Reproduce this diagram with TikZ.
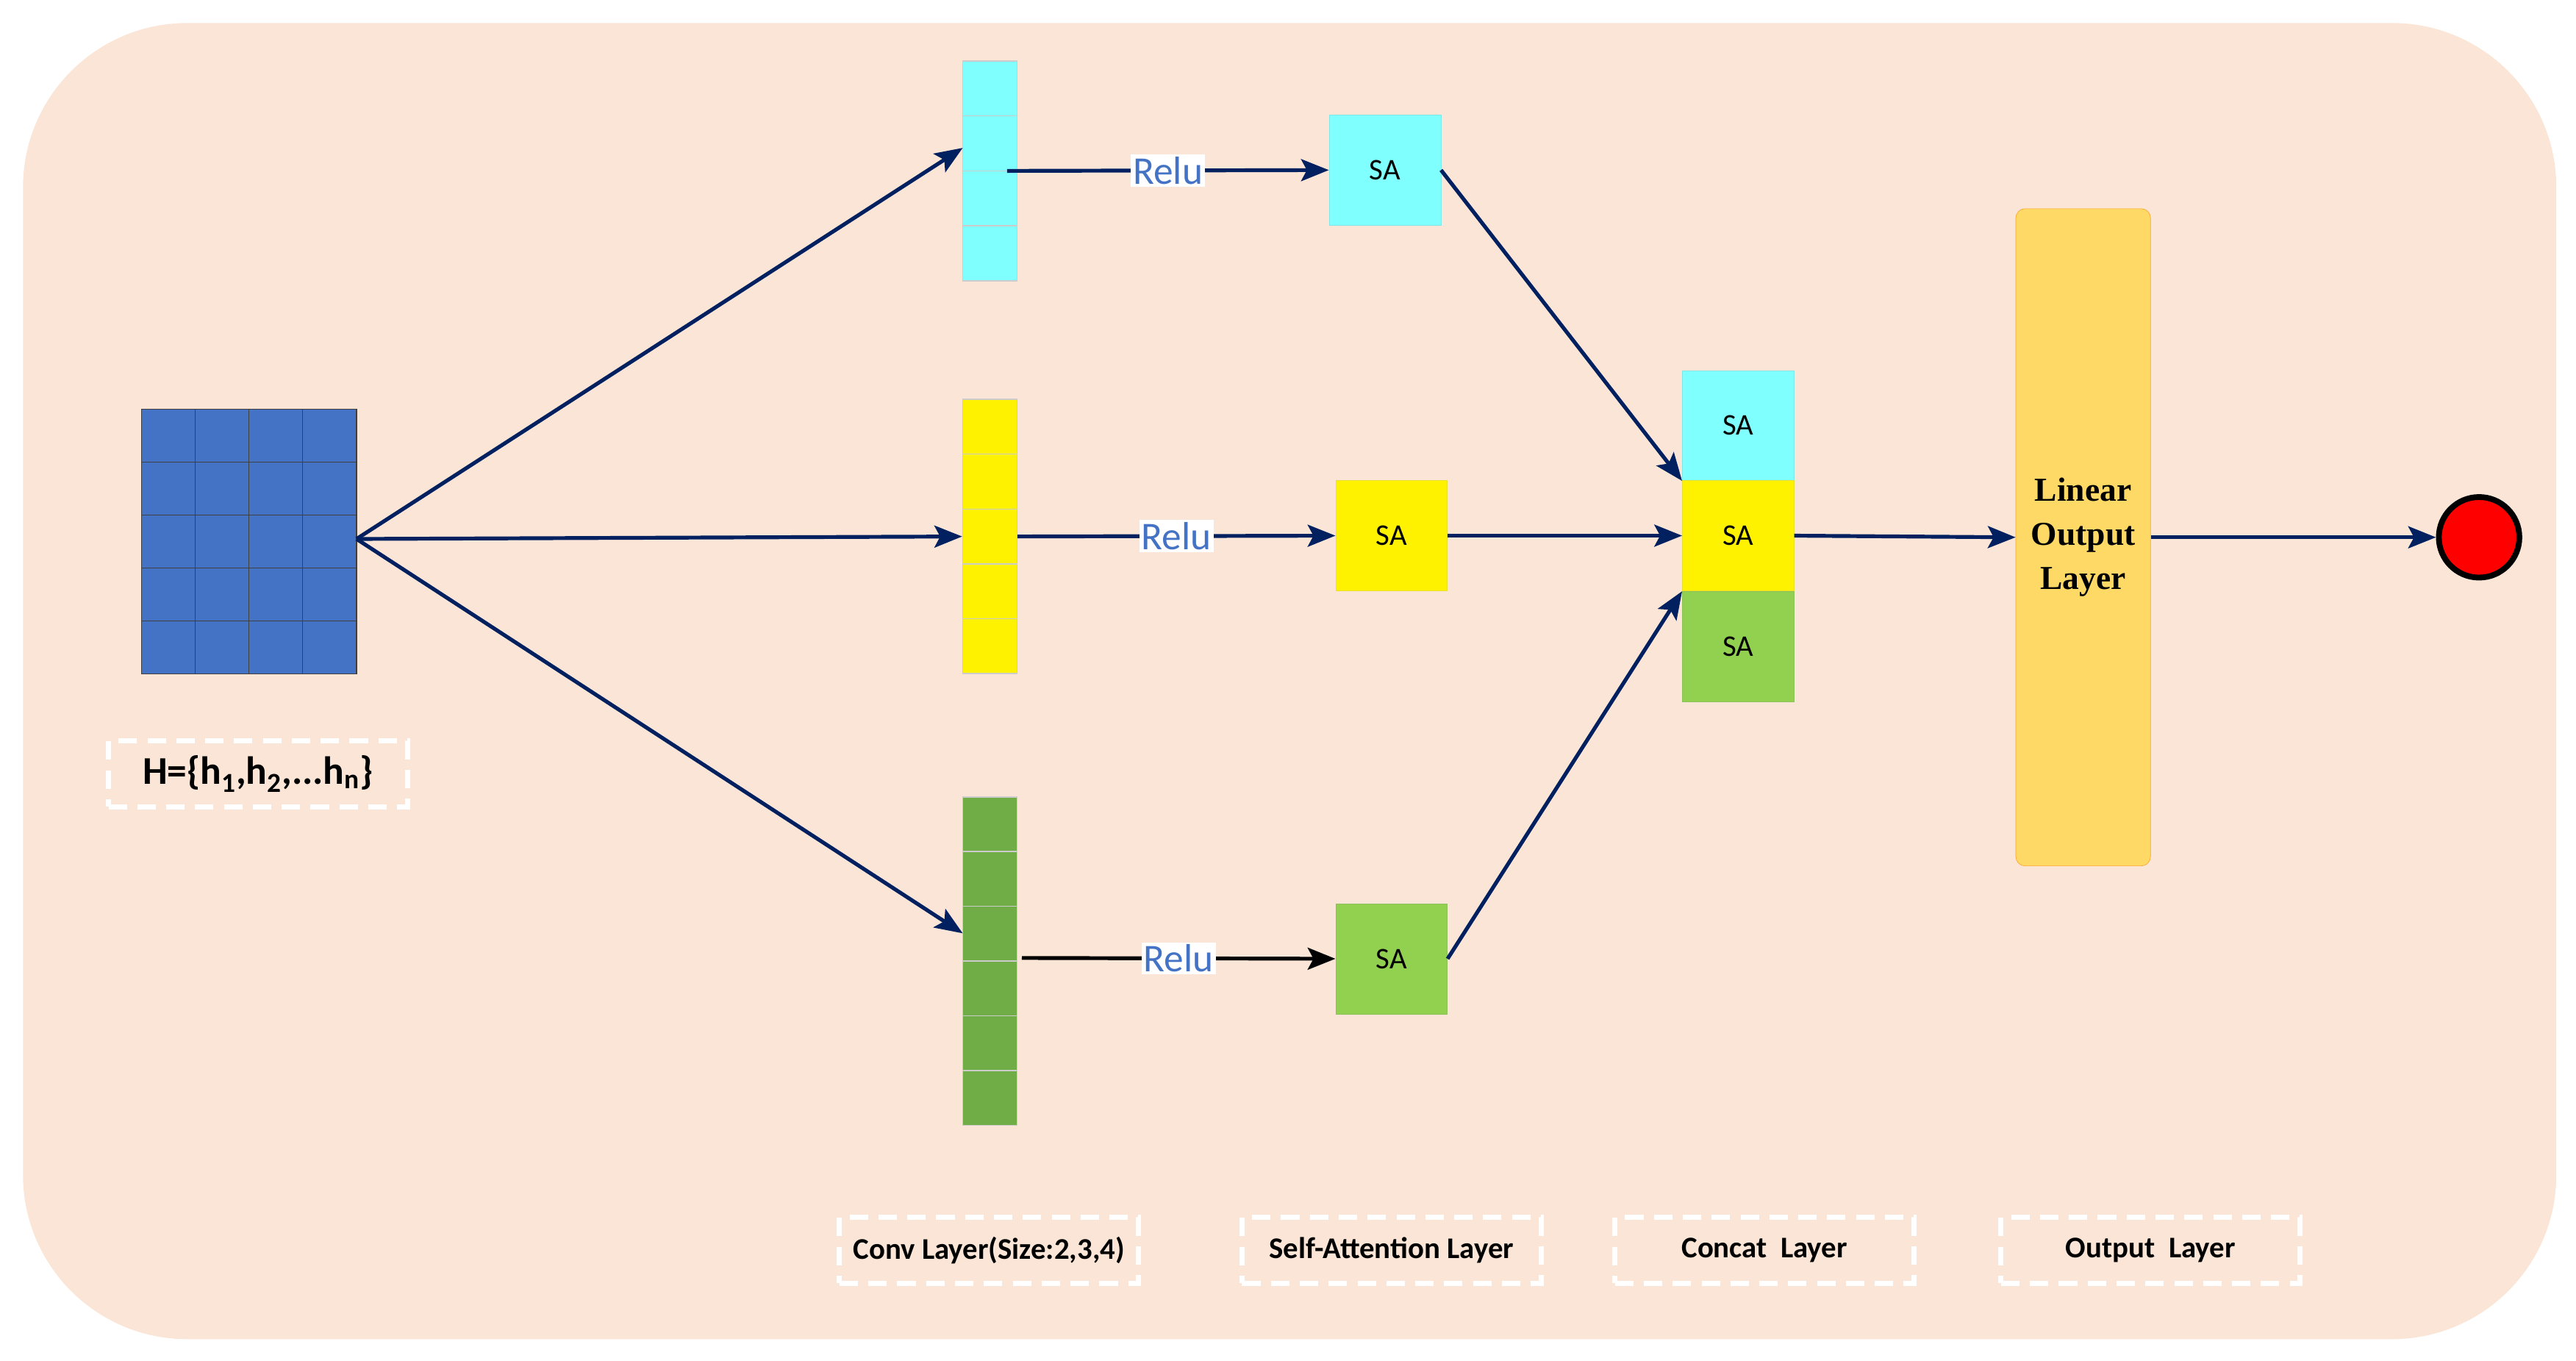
\documentclass[tikz,border=0pt]{standalone}
\usepackage{fontspec}
\setmainfont{Carlito}
\newfontfamily\serifbold{Liberation Serif}
\usetikzlibrary{arrows.meta,positioning}
\definecolor{bgpeach}{RGB}{251,229,214}
\definecolor{navy}{RGB}{0,32,96}
\definecolor{gridblue}{RGB}{68,114,196}
\definecolor{cyanfill}{RGB}{128,255,255}
\definecolor{greenfill}{RGB}{112,173,71}
\definecolor{lightgreen}{RGB}{146,208,80}
\definecolor{outgold}{RGB}{255,217,102}
\tikzset{
	cell/.style={draw=black!20, fill=#1, minimum width=1.65cm, minimum height=1.67cm, inner sep=0pt, line width=1pt},
	sa/.style={fill=#1, draw=#1!80!gray, minimum width=3.4cm, minimum height=3.35cm, inner sep=0pt, font=\fontsize{26}{28}\selectfont},
	flow/.style={-{Stealth[length=24pt,width=19pt,inset=5pt]}, navy, line width=3.3pt},
	tag/.style={draw=white, dash pattern=on 16pt off 9pt, line width=4.5pt, font=\bfseries\fontsize{26}{28}\selectfont, minimum width=9.1cm, minimum height=2cm},
	relu/.style={fill=white, text=gridblue, font=\fontsize{34}{36}\selectfont, inner sep=2pt}
}
\begin{document}
\begin{tikzpicture}[x=0.05cm, y=-0.05cm]
	\useasboundingbox (0,0) rectangle (1568,828);
	\fill[bgpeach, rounded corners=5cm] (14,14) rectangle (1556,815);

	% input matrix
	\foreach \r in {1,...,5}
		\foreach \c in {1,...,4}
			\node[draw=black!75, fill=gridblue, minimum width=1.6375cm, minimum height=1.61cm, inner sep=0pt, line width=0.8pt] (h\r\c) at ({86+32.75*(\c-0.5)}, {249+32.2*(\r-0.5)}) {};
	\coordinate (hout) at (217,328);
	\node[tag, minimum width=9.1cm, font=\bfseries\fontsize{34}{36}\selectfont] (hlabel) at (157,471) {H=\{h\textsubscript{1},h\textsubscript{2},...h\textsubscript{n}\}};

	% conv columns
	\foreach \i in {1,...,4}
		\node[cell=cyanfill] (cy\i) at (602.5, {37+33.5*(\i-0.5)}) {};
	\foreach \i in {1,...,5}
		\node[cell=yellow] (ye\i) at (602.5, {243+33.4*(\i-0.5)}) {};
	\foreach \i in {1,...,6}
		\node[cell=greenfill] (gr\i) at (602.5, {485+33.3*(\i-0.5)}) {};

	\draw[flow] (hout) -- (586,90);
	\draw[flow] (hout) -- (ye3.west);
	\draw[flow] (hout) -- (586,568);

	% self-attention
	\node[sa=cyanfill] (sa1) at (843,103.5) {SA};
	\node[sa=yellow] (sa2) at (847,326) {SA};
	\node[sa=lightgreen] (sa3) at (847,583.5) {SA};

	\draw[flow] (613,104) -- (sa1.west) node[relu, pos=0.5] {Relu};
	\draw[flow] (ye3.east) -- (sa2.west) node[relu, pos=0.5] {Relu};
	\draw[flow, black] (622,583) -- (sa3.west) node[relu, pos=0.5] {Relu};

	% concat
	\node[sa=cyanfill] (cc1) at (1058,259) {SA};
	\node[sa=yellow] (cc2) at (1058,326) {SA};
	\node[sa=lightgreen] (cc3) at (1058,393.5) {SA};

	\draw[flow] (sa1.east) -- (cc1.south west);
	\draw[flow] (sa2.east) -- (cc2.west);
	\draw[flow] (sa3.east) -- (cc3.north west);

	% output
	\node[fill=outgold, draw=orange!60!outgold, rounded corners=8pt, minimum width=4.1cm, minimum height=20cm, align=center, font=\serifbold\bfseries\fontsize{29}{38}\selectfont] (lin) at (1268,327) {Linear\\Output\\Layer};
	\node[circle, fill=red, draw=black, line width=5pt, minimum size=2.45cm] (res) at (1509,327) {};

	\draw[flow] (cc2.east) -- (lin.west);
	\draw[flow] (lin.east) -- (res.west);

	% layer tags
	\node[tag] (t1) at (602,761) {Conv Layer(Size:2,3,4)};
	\node[tag] (t2) at (847,761) {Self-Attention Layer};
	\node[tag] (t3) at (1074,761) {Concat\ \ Layer};
	\node[tag] (t4) at (1309,761) {Output\ \ Layer};
\end{tikzpicture}
\end{document}
